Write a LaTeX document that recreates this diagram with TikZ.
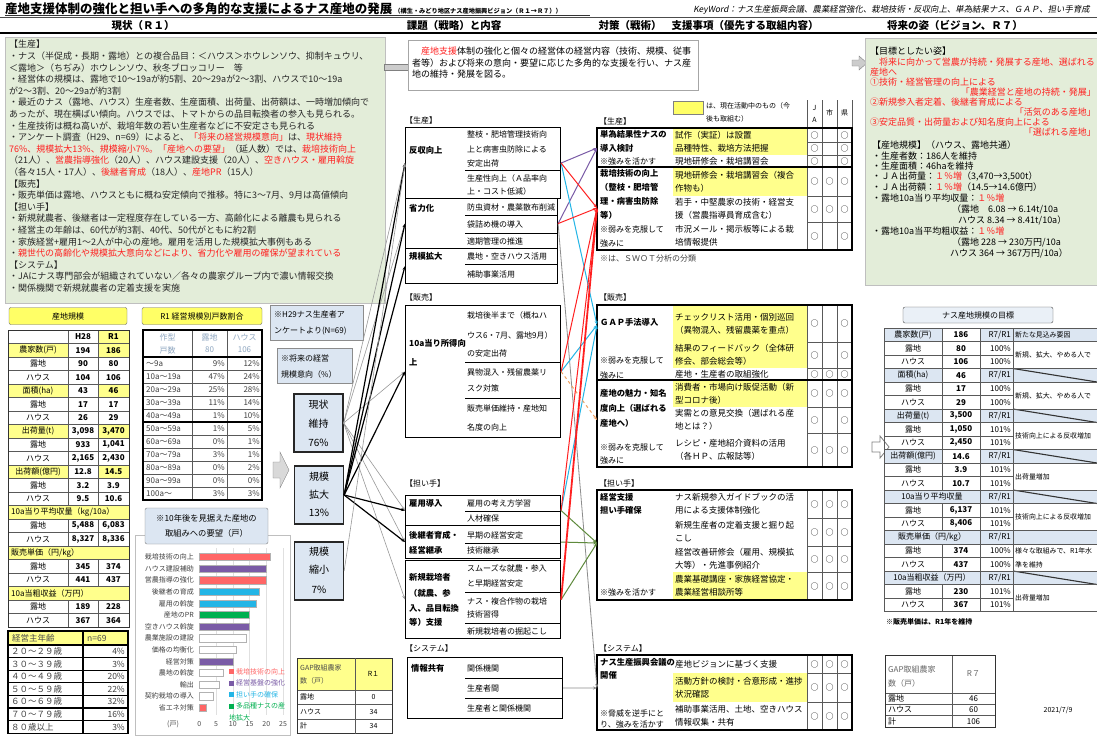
\documentclass[tikz,border=0pt]{standalone}
\usepackage{fontspec}
\setmainfont{Noto Sans CJK JP}
\newfontfamily\kwfont[FakeSlant=0.18]{Noto Sans CJK JP}
\usetikzlibrary{arrows.meta}
\definecolor{boxgreen}{HTML}{E3EDD9}
\definecolor{hdrblue}{HTML}{DCE6F2}
\definecolor{yel}{HTML}{FFFF8C}
\definecolor{yelhdr}{HTML}{FFFF66}
\definecolor{tred}{HTML}{FF2020}
\definecolor{cpurple}{HTML}{7A5BA6}
\definecolor{ccyan}{HTML}{22B5E6}
\definecolor{cgreen}{HTML}{00B050}
\definecolor{cbar}{HTML}{FF6666}
\definecolor{olivegreen}{HTML}{5E8A3C}
\definecolor{corange}{HTML}{F0A060}
\definecolor{paleblue}{HTML}{8EA6C0}
\tikzset{
  wl/.style={anchor=west,inner sep=0pt},
  wc/.style={inner sep=0pt},
  wr/.style={anchor=east,inner sep=0pt},
  f9/.style={font=\fontsize{9}{11.6}\selectfont},
  f85/.style={font=\fontsize{8.5}{10}\selectfont},
  f8/.style={font=\fontsize{8}{10}\selectfont},
  f7/.style={font=\fontsize{7}{8.5}\selectfont},
  lb/.style={anchor=west,inner sep=0pt,font=\fontsize{8.3}{10}\selectfont\bfseries},
  mlb/.style={anchor=west,inner sep=0pt,font=\fontsize{8.3}{10}\selectfont\bfseries},
  itm/.style={anchor=west,inner sep=0pt,font=\fontsize{8}{10}\selectfont},
  grd/.style={draw=black!65,line width=0.5pt},
  bx/.style={draw=black,line width=1.1pt},
  sepl/.style={draw=black,line width=0.7pt},
  arr/.style={-{Stealth[length=4pt,width=3pt]}},
  sbox/.style={draw=black!85,line width=1.3pt,fill=hdrblue,minimum width=49,minimum height=58,inner sep=0pt},
  stxt/.style={inner sep=0pt,font=\fontsize{10}{12}\selectfont},
  hdr/.style={inner sep=0pt,font=\fontsize{10.5}{12}\selectfont\bfseries},
}
\newcommand\tacRow[7]{%
  \fill[#3] (673,#1) rectangle (807,#2);
  \node[anchor=west,inner sep=0pt,align=left,font=\fontsize{8.5}{13}\selectfont] at (675,{(#1+#2)/2}) {#4};
  \node[wc,f8] at (814.5,{(#1+#2)/2}) {#5};
  \node[wc,f8] at (829.5,{(#1+#2)/2}) {#6};
  \node[wc,f8] at (844.5,{(#1+#2)/2}) {#7};
  \draw[grd] (673,#2) -- (852,#2);
}
\newcommand\tAtxt[4]{%
  \node[wc,f8] at (38,{336.75+13.5*#1}) {#2};
  \node[wc,f8] at (83,{336.75+13.5*#1}) {\bfseries #3};
  \node[wc,f8] at (113.5,{336.75+13.5*#1}) {\bfseries #4};}
\newcommand\tAsec[4]{%
  \fill[yel] (8,{330+13.5*#1}) rectangle (68,{343.5+13.5*#1});
  \fill[yel] (98,{330+13.5*#1}) rectangle (129,{343.5+13.5*#1});
  \tAtxt{#1}{#2}{#3}{#4}}
\newcommand\tAspan[2]{%
  \fill[yel] (8,{330+13.5*#1}) rectangle (129,{343.5+13.5*#1});
  \node[wl,f8] at (11,{336.75+13.5*#1}) {#2};}
\newcommand\tgSec[3]{%
  \fill[hdrblue] (884,{328+13.5*#1}) rectangle (942,{341.5+13.5*#1});
  \fill[hdrblue] (980,{328+13.5*#1}) rectangle (1097,{341.5+13.5*#1});
  \node[wc,f8] at (913,{334.75+13.5*#1}) {#2};
  \node[wc,f8] at (961,{334.75+13.5*#1}) {\bfseries #3};
  \node[wr,f8] at (1011,{334.75+13.5*#1}) {R7/R1};}
\newcommand\tgSub[4]{%
  \node[wc,f8] at (913,{334.75+13.5*#1}) {#2};
  \node[wc,f8] at (961,{334.75+13.5*#1}) {\bfseries #3};
  \node[wr,f8] at (1011,{334.75+13.5*#1}) {#4};}
\newcommand\tgSpan[2]{%
  \fill[hdrblue] (884,{328+13.5*#1}) rectangle (1097,{341.5+13.5*#1});
  \node[wc,f8] at (932,{334.75+13.5*#1}) {#2};
  \node[wr,f8] at (1011,{334.75+13.5*#1}) {R7/R1};}
\begin{document}
\begin{tikzpicture}[x=1pt,y=-1pt]
\useasboundingbox (0,0) rectangle (1097,736);
\fill[white] (0,0) rectangle (1097,736);
\begin{scope}
\clip (0,0) rectangle (1097,736);
% ---------------- title & header
\node[anchor=base west,inner sep=0pt,font=\fontsize{12.5}{13}\selectfont\bfseries] (title) at (5,13) {産地支援体制の強化と担い手への多角的な支援によるナス産地の発展\,{\fontsize{6.2}{7}\selectfont（構生・みどり地区ナス産地振興ビジョン（Ｒ１→Ｒ７））}};
\draw[black!80,line width=0.6pt] (5,15.6) -- (590,15.6);
\node[wr,font=\kwfont\fontsize{8.4}{10}\selectfont] (kw) at (1090,10) {KeyWord：ナス生産振興会議、農業経営強化、栽培技術・反収向上、単為結果ナス、ＧＡＰ、担い手育成};
\draw[black!70,line width=0.8pt] (0,17.5) -- (1097,17.5);
\draw[black,line width=1.6pt] (0,33) -- (1097,33);
\node[hdr] (h1) at (143,25.5) {現状（Ｒ１）};
\node[hdr] (h2) at (454,25.5) {課題（戦略）と内容};
\node[hdr] (h3) at (630,25.5) {対策（戦術）};
\node[hdr] (h4) at (745,25.5) {支援事項（優先する取組内容）};
\node[hdr] (h5) at (955,25.5) {将来の姿（ビジョン、Ｒ７）};
% ---------------- current status box
\node[draw=black!25,fill=boxgreen,anchor=north west,minimum width=380,minimum height=266,inner sep=0pt] (cur) at (5,37) {};
\node[anchor=north west,inner sep=0pt,align=left,f9,text=black!85] (curtxt) at (9,40) {%
【生産】\\
・ナス（半促成・長期・露地）との複合品目：＜ハウス＞ホウレンソウ、抑制キュウリ、\\
＜露地＞（ちぢみ）ホウレンソウ、秋冬ブロッコリー　等\\
・経営体の規模は、露地で10～19aが約5割、20～29aが2～3割、ハウスで10～19a\\
が2～3割、20～29aが約3割\\
・最近のナス（露地、ハウス）生産者数、生産面積、出荷量、出荷額は、一時増加傾向で\\
あったが、現在横ばい傾向。ハウスでは、トマトからの品目転換者の参入も見られる。\\
・生産技術は概ね高いが、栽培年数の若い生産者などに不安定さも見られる\\
・アンケート調査（H29、n=69）によると、\textcolor{tred}{「将来の経営規模意向」}は、\textcolor{tred}{現状維持}\\
\textcolor{tred}{76\%、規模拡大13\%、規模縮小7\%。「産地への要望」}（延人数）では、\textcolor{tred}{栽培技術向上}\\
（21人）、\textcolor{tred}{営農指導強化}（20人）、ハウス建設支援（20人）、\textcolor{tred}{空きハウス・雇用斡旋}\\
（各々15人・17人）、\textcolor{tred}{後継者育成}（18人）、\textcolor{tred}{産地PR}（15人）\\
【販売】\\
・販売単価は露地、ハウスともに概ね安定傾向で推移。特に3～7月、9月は高値傾向\\
【担い手】\\
・新規就農者、後継者は一定程度存在している一方、高齢化による離農も見られる\\
・経営主の年齢は、60代が約3割、40代、50代がともに約2割\\
・家族経営+雇用1～2人が中心の産地。雇用を活用した規模拡大事例もある\\
・\textcolor{tred}{親世代の高齢化や規模拡大意向などにより、省力化や雇用の確保が望まれている}\\
【システム】\\
・JAにナス専門部会が組織されていない／各々の農家グループ内で濃い情報交換\\
・関係機関で新規就農者の定着支援を実施};
% arrows between top boxes
\filldraw[fill=black!20,draw=black!50] (384,64) rectangle (408,70);
\filldraw[fill=black!20,draw=black!50] (852,60) -- (859,60) -- (859,56) -- (867,63) -- (859,70) -- (859,66) -- (852,66) -- cycle;
% ---------------- strategy statement
\node[draw=black!35,fill=white,anchor=north west,minimum width=290,minimum height=50,inner sep=0pt] (strat) at (408,40) {};
\node[anchor=north west,inner sep=0pt,align=left,f9,font=\fontsize{9}{11.5}\selectfont] (strattxt) at (412,47) {%
　\textcolor{tred}{産地支援}体制の強化と個々の経営体の経営内容（技術、規模、従事\\
者等）および将来の意向・要望に応じた多角的な支援を行い、ナス産\\
地の維持・発展を図る。};
% ---------------- vision box
\node[draw=black!25,fill=boxgreen,anchor=north west,minimum width=240,minimum height=247,inner sep=0pt] (vis) at (865,38) {};
\begin{scope}[every node/.style={wl,font=\fontsize{9}{11}\selectfont}]
\node at (870,51) {【目標としたい姿】};
\node[text=tred] at (870,62) {　将来に向かって営農が持続・発展する産地、選ばれる};
\node[text=tred] at (870,72) {産地へ};
\node[text=tred] at (870,82) {①技術・経営管理の向上による};
\node[text=tred,anchor=east] at (1096,92) {「農業経営と産地の持続・発展」};
\node[text=tred] at (870,102) {②新規参入者定着、後継者育成による};
\node[text=tred,anchor=east] at (1096,112) {「活気のある産地」};
\node[text=tred] at (870,122) {③安定品質・出荷量および知名度向上による};
\node[text=tred,anchor=east] at (1096,132) {「選ばれる産地」};
\node at (872,145) {【産地規模】（ハウス、露地共通）};
\node at (872,156) {・生産者数：186人を維持};
\node at (872,166.5) {・生産面積：46haを維持};
\node at (872,177) {・ＪＡ出荷量：\textcolor{tred}{１％増}（3,470→3,500t）};
\node at (872,187.5) {・ＪＡ出荷額：\textcolor{tred}{１％増}（14.5→14.6億円）};
\node at (872,198) {・露地10a当り平均収量：\textcolor{tred}{１％増}};
\node at (952,209) {（露地　6.08 → 6.14t/10a};
\node at (958,220) {ハウス 8.34 → 8.41t/10a）};
\node at (872,231) {・露地10a当平均粗収益：\textcolor{tred}{１％増}};
\node at (952,242) {（露地 228 → 230万円/10a};
\node at (950,253) {ハウス 364 → 367万円/10a）};
\end{scope}
% ---------------- table 1 産地規模
\node[draw=black!60,fill=yelhdr,rounded corners=2pt,minimum width=118,minimum height=17,inner sep=0pt,font=\fontsize{8}{10}\selectfont] (hA) at (68,316) {産地規模};
\fill[yel] (98,330) rectangle (129,343.5);
\tAtxt{0}{}{H28}{R1}
\tAsec{1}{農家数(戸)}{194}{186}
\tAtxt{2}{露地}{90}{80}
\tAtxt{3}{ハウス}{104}{106}
\tAsec{4}{面積(ha)}{43}{46}
\tAtxt{5}{露地}{17}{17}
\tAtxt{6}{ハウス}{26}{29}
\tAsec{7}{出荷量(t)}{3,098}{3,470}
\tAtxt{8}{露地}{933}{1,041}
\tAtxt{9}{ハウス}{2,165}{2,430}
\tAsec{10}{出荷額(億円)}{12.8}{14.5}
\tAtxt{11}{露地}{3.2}{3.9}
\tAtxt{12}{ハウス}{9.5}{10.6}
\tAspan{13}{10a当り平均収量（kg/10a）}
\tAtxt{14}{露地}{5,488}{6,083}
\tAtxt{15}{ハウス}{8,327}{8,336}
\tAspan{16}{販売単価（円/kg）}
\tAtxt{17}{露地}{345}{374}
\tAtxt{18}{ハウス}{441}{437}
\tAspan{19}{10a当粗収益（万円）}
\tAtxt{20}{露地}{189}{228}
\tAtxt{21}{ハウス}{367}{364}
\foreach \i in {0,...,22} {\draw[grd] (8,{330+13.5*\i}) -- (129,{330+13.5*\i});}
\foreach \a/\b in {330/505.5,519/546,559.5/586.5,600/627} {\draw[grd] (68,\a) -- (68,\b); \draw[grd] (98,\a) -- (98,\b);}
\draw[black!80,line width=0.9pt] (8,330) rectangle (129,627);
% ---------------- age table
\fill[yel] (8,631) rectangle (128,645);
\node[wl,f85,text=black!70] at (12,638) {経営主年齢};
\node[wl,f85,text=black!70] at (87,638) {n=69};
\foreach \a/\b [count=\k from 0] in {２０～２９歳/4\%,３０～３９歳/3\%,４０～４９歳/20\%,５０～５９歳/22\%,６０～６９歳/32\%,７０～７９歳/16\%,８０歳以上/3\%}
  {\node[wl,f85,text=black!75] at (11,{651.3+12.6*\k}) {\a}; \node[wr,f85,text=black!75] at (125,{651.3+12.6*\k}) {\b};}
\foreach \i in {0,...,7} {\draw[black,line width=1.2pt] (8,{645+12.6*\i}) -- (128,{645+12.6*\i});}
\draw[black,line width=1.2pt] (8,631) rectangle (128,733.2);
\draw[black,line width=1.2pt] (83,631) -- (83,733.2);
% ---------------- table 2
\node[draw=black!60,fill=yelhdr,rounded corners=2pt,minimum width=120,minimum height=17,inner sep=0pt,font=\fontsize{8}{10}\selectfont] (hB) at (202,316) {R1 経営規模別戸数割合};
\node[wc,f8,text=paleblue] at (167.5,337) {作型};
\node[wc,f8,text=paleblue] at (167.5,350) {戸数};
\node[wc,f8,text=paleblue] at (209.5,337) {露地};
\node[wc,f8,text=paleblue] at (209.5,350) {80};
\node[wc,f8,text=paleblue] at (244.5,337) {ハウス};
\node[wc,f8,text=paleblue] at (244.5,350) {106};
\foreach \a/\b/\c [count=\k from 0] in {～9a/9\%/12\%,10a～19a/47\%/24\%,20a～29a/25\%/28\%,30a～39a/11\%/14\%,40a～49a/1\%/10\%,50a～59a/1\%/5\%,60a～69a/0\%/1\%,70a～79a/3\%/1\%,80a～89a/0\%/2\%,90a～99a/0\%/0\%,100a～/3\%/3\%}
  {\node[wl,f8,text=black!75] at (146,{363.5+13*\k}) {\a};
   \node[wr,f8,text=black!75] at (225,{363.5+13*\k}) {\b};
   \node[wr,f8,text=black!75] at (260,{363.5+13*\k}) {\c};}
\foreach \i in {0,...,11} {\draw[grd] (143,{357+13*\i}) -- (262,{357+13*\i});}
\draw[grd] (143,330) -- (262,330);
\foreach \x in {192,227} {\draw[grd] (\x,330) -- (\x,500);}
\draw[black,line width=1.1pt] (143,330) rectangle (262,500);
\draw[black,line width=1.1pt] (143,357) -- (262,357);
\draw[black,line width=1.1pt] (143,422) -- (262,422);
% ---------------- survey boxes
\node[draw=black!45,fill=hdrblue,minimum width=93,minimum height=35,inner sep=0pt] (n29) at (316.5,322.5) {};
\node[wl,f8] at (274,314) {※H29ナス生産者ア};
\node[wl,f8] at (274,331) {ンケートより(N=69)};
\node[draw=black!45,fill=hdrblue,minimum width=75,minimum height=35,inner sep=0pt] (nfut) at (314.5,365.5) {};
\node[wl,f8] at (281,358) {※将来の経営};
\node[wl,f8] at (281,374) {規模意向（\%）};
\filldraw[fill=black!15,draw=black!50] (273,462) -- (280,462) -- (280,452) -- (289,470) -- (280,488) -- (280,478) -- (273,478) -- cycle;
\node[sbox] (sA) at (318.5,423) {};
\node[stxt] at (318.5,405) {現状};
\node[stxt] at (318.5,424) {維持};
\node[stxt] at (318.5,443) {76\%};
\node[sbox] (sB) at (319,495) {};
\node[stxt] at (319,477) {規模};
\node[stxt] at (319,495) {拡大};
\node[stxt] at (319,513) {13\%};
\node[sbox] (sC) at (319,571) {};
\node[stxt] at (319,552) {規模};
\node[stxt] at (319,570) {縮小};
\node[stxt] at (319,590) {7\%};
% ---------------- bar chart
\draw[black!25] (135,535) rectangle (290,735);
\foreach \v in {5,10,15,20,25} {\draw[black!12] ({199.3+3.35*\v},548) -- ({199.3+3.35*\v},715);}
\foreach \n/\v/\c [count=\k from 0] in {栽培技術の向上/21/cbar,ハウス建設補助/20/cpurple,営農指導の強化/20/cbar,後継者の育成/18/ccyan,雇用の斡旋/17/ccyan,産地のPR/15/cgreen,空きハウス斡旋/15/cpurple,農業施設の建設/14/white,価格の均衡化/11/white,経営対策/10/cpurple,農地の斡旋/7/white,輸出/6/white,契約栽培の導入/4/white,省エネ対策/2/cbar}
  {\pgfmathsetmacro\yy{557+11.6*\k}
   \node[wr,f7,text=black!75] at (194,\yy) {\n};
   \filldraw[fill=\c,draw=black!30,line width=0.3pt] (199.3,{\yy-3.6}) rectangle ({199.3+3.35*\v},{\yy+3.6});}
\node[wc,f7,text=black!70] at (173,724) {(戸)};
\foreach \v in {0,5,10,15,20,25} {\node[wc,f7,text=black!70] at ({199.3+3.35*\v},724) {\v};}
\foreach \t/\c [count=\k from 0] in {栽培技術の向上/cbar,経営基盤の強化/cpurple,担い手の確保/ccyan,多品種ナスの産/cgreen}
  {\fill[\c] (229,{669+11.5*\k}) rectangle (234,{674+11.5*\k});
   \node[wl,f7,text=\c] at (236,{671.5+11.5*\k}) {\t};}
\node[wl,f7,text=cgreen] at (229,717.5) {地拡大};
\node[draw=black!50,fill=hdrblue,rounded corners=2pt,minimum width=123,minimum height=36,inner sep=0pt] (chh) at (206.5,526) {};
\node[wc,align=center,font=\fontsize{8.3}{15}\selectfont] at (206.5,526) {※10年後を見据えた産地の\\取組みへの要望（戸）};
% ---------------- GAP R1
\fill[yel] (297,658) rectangle (392,690);
\node[wl,f7,text=black!70] at (300,668) {GAP取組農家};
\node[wl,f7,text=black!70] at (300,681) {数（戸）};
\node[wc,f7] at (373.5,674) {R１};
\node[wl,f7] at (300,697.3) {露地};
\node[wc,f7] at (373.5,697.3) {0};
\node[wl,f7] at (300,711.8) {ハウス};
\node[wc,f7] at (373.5,711.8) {34};
\node[wl,f7] at (300,726.3) {計};
\node[wc,f7] at (373.5,726.3) {34};
\foreach \y in {690,704.5,719} {\draw[grd] (297,\y) -- (392,\y);}
\draw[black!80,line width=0.9pt] (297,658) rectangle (392,733.5);
\draw[grd] (355,658) -- (355,733.5);
% ---------------- middle strategy boxes
\node[wl,f8] at (405,120) {【生産】};
\node[bx,anchor=north west,minimum width=155,minimum height=71,inner sep=0pt] (s1) at (405,127) {};
\node[mlb] at (409,150) {反収向上};
\node[itm] at (467,134) {整枝・肥培管理技術向};
\node[itm] at (467,149) {上と病害虫防除による};
\node[itm] at (467,163) {安定出荷};
\draw[sepl] (465,170) -- (560,170);
\node[itm] at (467,178) {生産性向上（Ａ品率向};
\node[itm] at (467,191) {上・コスト低減）};
\node[bx,anchor=north west,minimum width=152,minimum height=50,inner sep=0pt] (s2) at (405,198) {};
\node[mlb] at (409,208) {省力化};
\node[itm] at (467,207) {防虫資材・農薬散布削減};
\draw[sepl] (465,215) -- (557,215);
\node[itm] at (467,224) {袋詰め機の導入};
\draw[sepl] (465,233) -- (557,233);
\node[itm] at (467,241) {適期管理の推進};
\node[bx,anchor=north west,minimum width=152,minimum height=35,inner sep=0pt] (s3) at (405,248) {};
\node[mlb] at (409,256) {規模拡大};
\node[itm] at (467,256) {農地・空きハウス活用};
\draw[sepl] (465,264) -- (557,264);
\node[itm] at (467,274) {補助事業活用};
\node[wl,f8] at (405,297) {【販売】};
\node[bx,anchor=north west,minimum width=155,minimum height=132,inner sep=0pt] (s4) at (405,305) {};
\node[mlb] at (409,343) {10a当り所得向};
\node[mlb] at (409,362) {上};
\node[itm] at (467,315) {栽培後半まで（概ねハ};
\node[itm] at (467,335) {ウス6・7月、露地9月）};
\node[itm] at (467,353) {の安定出荷};
\draw[sepl] (465,362) -- (560,362);
\node[itm] at (467,372) {異物混入・残留農薬リ};
\node[itm] at (467,388) {スク対策};
\draw[sepl] (465,398) -- (560,398);
\node[itm] at (467,408) {販売単価維持・産地知};
\node[itm] at (467,427) {名度の向上};
\node[wl,f8] at (405,483) {【担い手】};
\node[bx,anchor=north west,minimum width=155,minimum height=30,inner sep=0pt] (s5) at (405,495) {};
\node[mlb] at (409,503) {雇用導入};
\node[itm] at (467,503) {雇用の考え方学習};
\draw[sepl] (465,511) -- (560,511);
\node[itm] at (467,518) {人材確保};
\node[bx,anchor=north west,minimum width=155,minimum height=33,inner sep=0pt] (s6) at (405,525) {};
\node[mlb] at (409,535) {後継者育成・};
\node[mlb] at (409,550) {経営継承};
\node[itm] at (467,535) {早期の経営安定};
\draw[sepl] (465,543) -- (560,543);
\node[itm] at (467,550) {技術継承};
\node[bx,anchor=north west,minimum width=155,minimum height=78,inner sep=0pt] (s7) at (405,560) {};
\node[mlb] at (409,577) {新規栽培者};
\node[mlb] at (409,593) {（就農、参};
\node[mlb] at (409,608) {入、品目転換};
\node[mlb] at (409,622) {等）支援};
\node[itm] at (467,568) {スムーズな就農・参入};
\node[itm] at (467,583) {と早期経営安定};
\draw[sepl] (465,592) -- (560,592);
\node[itm] at (467,601) {ナス・複合作物の栽培};
\node[itm] at (467,614) {技術習得};
\draw[sepl] (465,623) -- (560,623);
\node[itm] at (467,631) {新規栽培者の掘起こし};
\node[wl,f8] at (405,648) {【システム】};
\node[bx,anchor=north west,minimum width=155,minimum height=61,inner sep=0pt] (s8) at (407,657) {};
\node[mlb] at (411,668) {情報共有};
\node[itm] at (467,668) {関係機関};
\draw[sepl] (465,678) -- (562,678);
\node[itm] at (467,688) {生産者間};
\draw[sepl] (465,698) -- (562,698);
\node[itm] at (467,708) {生産者と関係機関};
% ---------------- right tactics
\filldraw[fill=yelhdr,draw=black!50] (673,101) rectangle (703,114);
\node[wl,f7] at (706,106) {は、現在活動中のもの（今};
\node[wl,f7] at (706,119) {後も取組む）};
\foreach \x in {807,822,837,852} {\draw[grd] (\x,100) -- (\x,128);}
\node[wc,f7] at (814.5,108) {J};
\node[wc,f7] at (814.5,120) {A};
\node[wc,f7] at (829.5,113) {市};
\node[wc,f7] at (844.5,113) {県};
\node[wl,f8] at (599,121) {【生産】};
\tacRow{128}{142}{yel}{試作（実証）は設置}{○}{}{○}
\tacRow{142}{155}{yel}{品種特性、栽培方法把握}{○}{}{○}
\tacRow{155}{167}{white}{現地研修会・栽培講習会}{○}{}{○}
\tacRow{167}{196}{yel}{現地研修会・栽培講習会（複合\\作物も）}{○}{○}{○}
\tacRow{196}{222}{white}{若手・中堅農家の技術・経営支\\援（営農指導員育成含む）}{○}{○}{○}
\tacRow{222}{250}{white}{市況メール・掲示板等による栽\\培情報提供}{○}{}{○}
\node[lb] at (600,134) {単為結果性ナスの};
\node[lb] at (600,148) {導入検討};
\node[wl,f8] at (600,161) {※強みを活かす};
\node[lb] at (600,173) {栽培技術の向上};
\node[lb] at (600,187) {（整枝・肥培管};
\node[lb] at (600,201) {理・病害虫防除};
\node[lb] at (600,215) {等）};
\node[wl,f8] at (600,229) {※弱みを克服して};
\node[wl,f8] at (600,243) {強みに};
\foreach \x in {807,822,837} {\draw[grd] (\x,128) -- (\x,250);}
\draw[bx] (597,128) rectangle (852,250);
\draw[bx] (597,167) -- (852,167);
\node[coordinate] (t1) at (597,148) {};
\node[coordinate] (t2) at (597,208) {};
\node[wl,f8,text=black!75] at (600,258) {※は、ＳＷＯＴ分析の分類};
\node[wl,f8] at (599,297) {【販売】};
\tacRow{305}{342}{yel}{チェックリスト活用・個別巡回\\（異物混入、残留農薬を重点）}{○}{}{○}
\tacRow{342}{368}{yel}{結果のフィードバック（全体研\\修会、部会総会等）}{○}{}{○}
\tacRow{368}{380}{white}{産地・生産者の取組強化}{○}{○}{○}
\tacRow{380}{407}{yel}{消費者・市場向け販促活動（新\\型コロナ後）}{○}{○}{○}
\tacRow{407}{433}{white}{実需との意見交換（選ばれる産\\地とは？）}{○}{}{○}
\tacRow{433}{467}{white}{レシピ・産地紹介資料の活用\\（各ＨＰ、広報誌等）}{○}{○}{○}
\node[lb] at (600,322) {ＧＡＰ手法導入};
\node[wl,f8] at (600,360) {※弱みを克服して};
\node[wl,f8] at (600,375) {強みに};
\node[lb] at (600,393) {産地の魅力・知名};
\node[lb] at (600,408) {度向上（選ばれる};
\node[lb] at (600,423) {産地へ）};
\node[wl,f8] at (600,447) {※弱みを克服して};
\node[wl,f8] at (600,460) {強みに};
\foreach \x in {807,822,837} {\draw[grd] (\x,305) -- (\x,467);}
\draw[bx] (597,305) rectangle (852,467);
\draw[bx] (597,380) -- (852,380);
\node[coordinate] (t3) at (597,325) {};
\node[coordinate] (t4) at (597,420) {};
\node[wl,f8] at (599,483) {【担い手】};
\tacRow{490}{518}{white}{ナス新規参入ガイドブックの活\\用による支援体制強化}{○}{○}{○}
\tacRow{518}{546}{white}{新規生産者の定着支援と掘り起\\こし}{○}{○}{○}
\tacRow{546}{572}{white}{経営改善研修会（雇用、規模拡\\大等）・先進事例紹介}{○}{○}{○}
\tacRow{572}{600}{yel}{農業基礎講座・家族経営協定・\\農業経営相談所等}{○}{○}{○}
\node[lb] at (600,497) {経営支援};
\node[lb] at (600,510) {担い手確保};
\node[wl,f8] at (600,592) {※強みを活かす};
\foreach \x in {807,822,837} {\draw[grd] (\x,490) -- (\x,600);}
\draw[bx] (597,490) rectangle (852,600);
\node[coordinate] (t5) at (597,543) {};
\node[wl,f8] at (599,648) {【システム】};
\tacRow{655}{673}{white}{産地ビジョンに基づく支援}{○}{○}{○}
\tacRow{673}{702}{yel}{活動方針の検討・合意形成・進捗\\状況確認}{○}{○}{○}
\tacRow{702}{730}{white}{補助事業活用、土地、空きハウス\\情報収集・共有}{○}{○}{○}
\node[lb] at (600,662) {ナス生産振興会議の};
\node[lb] at (600,675) {開催};
\node[wl,f8] at (600,713) {※脅威を逆手にと};
\node[wl,f8] at (600,724) {り、強みを活かす};
\foreach \x in {807,822,837} {\draw[grd] (\x,655) -- (\x,730);}
\draw[bx] (597,655) rectangle (852,730);
\node[coordinate] (t6) at (597,688) {};
% ---------------- connectors left
\foreach \s in {s1,s2,s4,s5,s6,s7} {\draw[arr,black!40,line width=0.6pt] (sA.east) -- (\s.west);}
\foreach \s in {s1,s2,s3,s4,s5,s6} {\draw[arr,black,line width=1.2pt] (sB.east) -- (\s.west);}
\draw[arr,black!40,line width=0.6pt] (sC.east) -- (s1.west);
% ---------------- connectors right
\draw[arr,black!45,line width=0.8pt] (s2.east) -- (t6);
\draw[arr,black!45,line width=0.8pt] (s8.east) -- (t6);
\draw[arr,cpurple,line width=1pt] (s1.east) -- (t1);
\draw[arr,cpurple,line width=1pt] (s2.east) -- (t1);
\draw[arr,ccyan,line width=1pt] (s1.east) -- (t3);
\draw[arr,ccyan,line width=1pt] (s4.east) -- (t3);
\draw[arr,ccyan,line width=1pt] (s5.east) -- (t3);
\draw[arr,corange,dashed,line width=1pt] (s4.east) -- (t4);
\draw[arr,olivegreen,line width=1pt] (s5.east) -- (t5);
\draw[arr,olivegreen,line width=1pt] (s6.east) -- (t5);
\draw[arr,olivegreen,line width=1pt] (s7.east) -- (t5);
\draw[arr,tred,line width=1pt] (s1.east) -- (t2);
\draw[arr,tred,line width=1pt] (s2.east) -- (t2);
\draw[arr,tred,line width=1pt] (s4.east) -- (t2);
\draw[arr,tred,line width=1pt] (s5.east) -- (t2);
\draw[arr,tred,line width=1.8pt] (s7.east) -- (t2);
% ---------------- target table
\node[draw=black!70,fill=hdrblue!60,rounded corners=2pt,minimum width=150,minimum height=16,inner sep=0pt,font=\fontsize{8}{10}\selectfont] (tgh) at (978,315) {ナス産地規模の目標};
\filldraw[fill=white,draw=black!50,line width=0.8pt] (872,442) -- (880,442) -- (880,436) -- (889,447) -- (880,458) -- (880,452) -- (872,452) -- cycle;
\tgSec{0}{農家数(戸)}{186}
\tgSub{1}{露地}{80}{100\%}
\tgSub{2}{ハウス}{106}{100\%}
\tgSec{3}{面積(ha)}{46}
\tgSub{4}{露地}{17}{100\%}
\tgSub{5}{ハウス}{29}{100\%}
\tgSec{6}{出荷量(t)}{3,500}
\tgSub{7}{露地}{1,050}{101\%}
\tgSub{8}{ハウス}{2,450}{101\%}
\tgSec{9}{出荷額(億円)}{14.6}
\tgSub{10}{露地}{3.9}{101\%}
\tgSub{11}{ハウス}{10.7}{101\%}
\tgSpan{12}{10a当り平均収量}
\tgSub{13}{露地}{6,137}{101\%}
\tgSub{14}{ハウス}{8,406}{101\%}
\tgSpan{15}{販売単価（円/kg）}
\tgSub{16}{露地}{374}{100\%}
\tgSub{17}{ハウス}{437}{100\%}
\tgSpan{18}{10a当粗収益（万円）}
\tgSub{19}{露地}{230}{101\%}
\tgSub{20}{ハウス}{367}{101\%}
\begin{scope}[every node/.style={wl,font=\fontsize{6.9}{8.5}\selectfont}]
\node at (1015,334.75) {新たな見込み要因};
\node at (1015,355) {新規、拡大、やめる人で};
\node at (1015,395.5) {新規、拡大、やめる人で};
\node at (1015,436) {技術向上による反収増加};
\node at (1015,476.5) {出荷量増加};
\node at (1015,517) {技術向上による反収増加};
\node at (1015,551) {様々な取組みで、R1年水};
\node at (1015,564.5) {準を維持};
\node at (1015,598) {出荷量増加};
\end{scope}
\foreach \i in {3,6,9,12,18} {\draw[black!80,line width=1.1pt] (1013,{328+13.5*\i}) -- (1097,{341.5+13.5*\i});}
\foreach \i in {0,...,21} {\draw[grd] (884,{328+13.5*\i}) -- (1013,{328+13.5*\i});}
\foreach \i in {0,1,3,4,6,7,9,10,12,13,15,16,18,19,21} {\draw[grd] (1013,{328+13.5*\i}) -- (1097,{328+13.5*\i});}
\foreach \x in {884,980,1013} {\draw[grd] (\x,328) -- (\x,611.5);}
\foreach \a/\b in {328/490,503.5/530.5,544/571,584.5/611.5} {\draw[grd] (942,\a) -- (942,\b);}
\node[wl,f7,font=\fontsize{7}{8.5}\selectfont\bfseries] at (886,622) {※販売単価は、R1年を維持};
% ---------------- GAP R7
\node[wl,f8,text=black!60] at (888,669) {GAP取組農家};
\node[wl,f8,text=black!60] at (888,683) {数（戸）};
\node[wc,f8,text=black!60] at (973.5,674) {R７};
\node[wl,f8] at (888,698.5) {露地};
\node[wc,f8] at (973.5,698.5) {46};
\node[wl,f8] at (888,709.8) {ハウス};
\node[wc,f8] at (973.5,709.8) {60};
\node[wl,f8] at (888,721.3) {計};
\node[wc,f8] at (973.5,721.3) {106};
\foreach \y in {693,704,715.5} {\draw[grd] (885,\y) -- (995,\y);}
\draw[grd] (952,655) -- (952,727);
\draw[black!80,line width=1pt] (885,655) rectangle (995,727);
\node[wc,f7] at (1058,710) {2021/7/9};
\end{scope}
\end{tikzpicture}
\end{document}
